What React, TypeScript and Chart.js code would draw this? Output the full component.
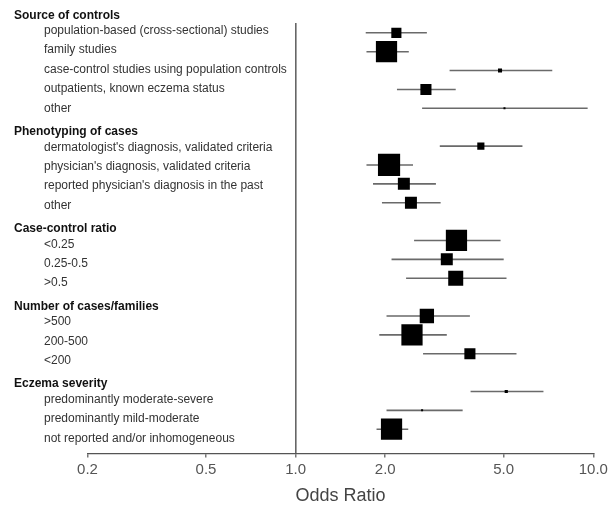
import React, { useEffect, useRef } from "react";
import { Chart, registerables } from "chart.js";

Chart.register(...registerables);

const groups = [
  "Source of controls",
  "Phenotyping of cases",
  "Case-control ratio",
  "Number of cases/families",
  "Eczema severity",
];

const categories = [
  "population-based (cross-sectional) studies",
  "family studies",
  "case-control studies using population controls",
  "outpatients, known eczema status",
  "other",
  "dermatologist's diagnosis, validated criteria",
  "physician's diagnosis, validated criteria",
  "reported physician's diagnosis in the past",
  "other",
  "<0.25",
  "0.25-0.5",
  ">0.5",
  ">500",
  "200-500",
  "<200",
  "predominantly moderate-severe",
  "predominantly mild-moderate",
  "not reported and/or inhomogeneous",
];

const groupOf = [0, 0, 0, 0, 0, 1, 1, 1, 1, 2, 2, 2, 3, 3, 3, 4, 4, 4];

const oddsRatio = [2.18, 2.02, 4.86, 2.74, 5.03, 4.19, 2.06, 2.31, 2.44, 3.47, 3.22, 3.45, 2.76, 2.46, 3.85, 5.1, 2.66, 2.1];
const lowerCI = [1.72, 1.73, 3.29, 2.19, 2.66, 3.05, 1.73, 1.82, 1.95, 2.5, 2.1, 2.35, 2.02, 1.91, 2.68, 3.87, 2.02, 1.87];
const upperCI = [2.76, 2.4, 7.28, 3.45, 9.57, 5.78, 2.48, 2.96, 3.07, 4.88, 5.0, 5.11, 3.85, 3.22, 5.52, 6.8, 3.64, 2.39];
const weights = [10, 44, 1.6, 12, 0.4, 5, 48, 14, 14, 44, 14, 22, 20, 44, 12, 1, 0.4, 44];

const xTicks = [0.2, 0.5, 1, 2, 5, 10];
const xTitle = "Odds Ratio";

const FONT = "'Liberation Sans', Arial, sans-serif";

export default function App() {
  const ref = useRef<HTMLCanvasElement | null>(null);

  useEffect(() => {
    const canvas = ref.current;
    if (!canvas) return;

    const rowOf = categories.map((_, i) => i + groupOf[i]);

    const ciData: any[] = [];
    categories.forEach((_, i) => {
      ciData.push({ x: lowerCI[i], y: rowOf[i] });
      ciData.push({ x: upperCI[i], y: rowOf[i] });
      ciData.push({ x: upperCI[i], y: null });
    });

    const pointData = categories.map((_, i) => ({ x: oddsRatio[i], y: rowOf[i] }));
    const radii = weights.map((w) => (3.2 * Math.sqrt(w)) / (2 * Math.SQRT1_2));

    const labelPlugin = {
      id: "rowLabels",
      afterDatasetsDraw(chart: any) {
        const ctx = chart.ctx;
        const ys = chart.scales.yLabels;
        ctx.save();
        ctx.textAlign = "left";
        ctx.textBaseline = "middle";
        groups.forEach((g, gi) => {
          const first = groupOf.indexOf(gi);
          const y = ys.getPixelForValue(rowOf[first] - 0.8);
          ctx.font = `bold 12px ${FONT}`;
          ctx.fillStyle = "#111";
          ctx.fillText(g, 14, y);
        });
        categories.forEach((c, i) => {
          const y = ys.getPixelForValue(rowOf[i]);
          ctx.font = `12px ${FONT}`;
          ctx.fillStyle = "#333";
          ctx.fillText(c, 44, y);
        });
        ctx.restore();
      },
    };

    const chart = new Chart(canvas, {
      type: "scatter",
      data: {
        datasets: [
          {
            data: pointData,
            yAxisID: "y",
            pointStyle: "rect",
            pointRadius: radii,
            pointHoverRadius: radii,
            backgroundColor: "#000",
            borderColor: "#000",
            borderWidth: 0,
            order: 0,
          } as any,
          {
            data: ciData,
            yAxisID: "y",
            showLine: true,
            spanGaps: false,
            borderColor: "#6a6a6a",
            borderWidth: 1.6,
            pointRadius: 0,
            order: 1,
          } as any,
        ],
      },
      options: {
        responsive: false,
        animation: false,
        events: [],
        layout: { padding: { left: 87.5, right: 13.5, top: 23, bottom: 0 } },
        plugins: {
          legend: { display: false },
          tooltip: { enabled: false },
        },
        scales: {
          x: {
            type: "logarithmic",
            min: 0.2,
            max: 10,
            afterBuildTicks: (scale: any) => {
              scale.ticks = xTicks.map((v) => ({ value: v }));
            },
            afterFit: (scale: any) => {
              scale.paddingLeft = 0;
              scale.paddingRight = 0;
            },
            afterUpdate: (scale: any) => {
              // keep the axis spanning the measured plot extent
              scale.left = 87.5;
              scale.right = 595.5;
              scale.width = scale.right - scale.left;
              scale._startPixel = scale.left;
              scale._length = scale.width;
            },
            ticks: {
              autoSkip: false,
              maxRotation: 0,
              padding: 3,
              color: "#555",
              font: { family: FONT, size: 15 },
              callback: (v: any) => Number(v).toFixed(1),
            },
            grid: {
              drawOnChartArea: true,
              drawTicks: true,
              tickLength: 4,
              lineWidth: 1.6,
              color: (c: any) => (c.tick && c.tick.value === 1 ? "#666" : "rgba(0,0,0,0)"),
              tickColor: "#555",
              tickWidth: 1.2,
            },
            border: { display: true, color: "#555", width: 1.3 },
            title: {
              display: true,
              text: xTitle,
              color: "#444",
              font: { family: FONT, size: 18 },
              padding: { top: 4, bottom: 0 },
            },
          } as any,
          y: {
            type: "linear",
            display: false,
            reverse: true,
            min: -0.52,
            max: 22.28,
          },
          yLabels: {
            type: "linear",
            display: false,
            reverse: true,
            min: -0.4,
            max: 21.78,
          },
        },
      },
      plugins: [labelPlugin],
    });

    return () => chart.destroy();
  }, []);

  return (
    <canvas
      ref={ref}
      width={609}
      height={507}
      style={{ position: "absolute", left: 0, top: 0, display: "block", background: "#fff" }}
    />
  );
}
